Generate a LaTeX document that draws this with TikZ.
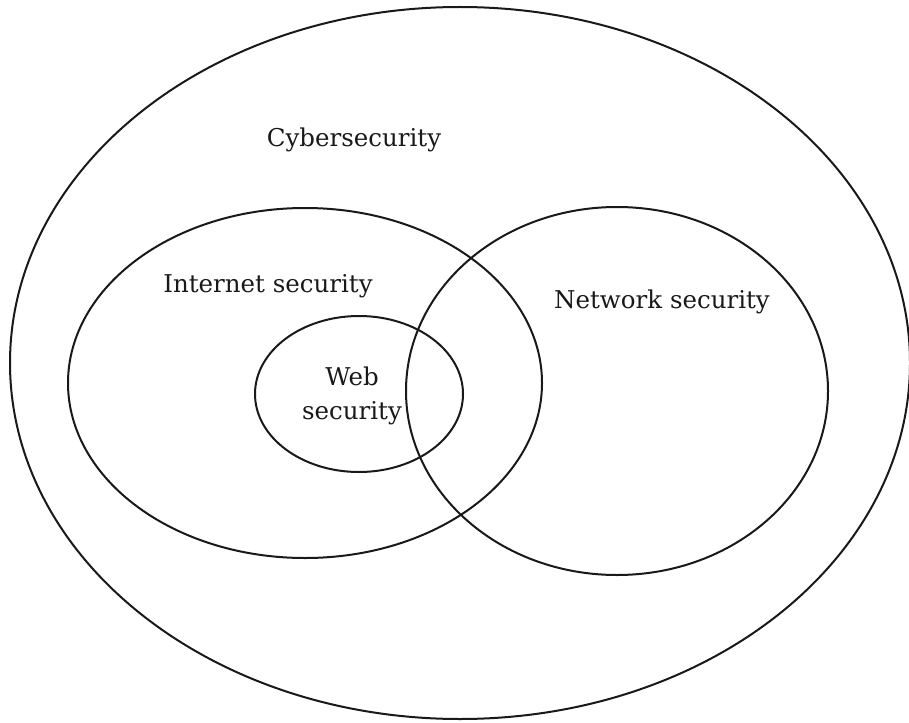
\documentclass[tikz,border=0pt]{standalone}
\usepackage{fontspec}
\setmainfont{DejaVu Serif}
\begin{document}
\begin{tikzpicture}[x=1pt,y=-1pt,
  ring/.style={draw=black!90, line width=2pt},
  lbl/.style={font=\fontsize{24.5}{34}\selectfont, text=black!90, inner sep=0pt, align=center}]
\useasboundingbox (0,0) rectangle (909,722);
\draw[ring] (460,363) ellipse [x radius=450, y radius=356];
\draw[ring] (305,383) ellipse [x radius=237, y radius=175];
\draw[ring] (617,391) ellipse [x radius=211, y radius=184];
\draw[ring] (359,394) ellipse [x radius=104, y radius=78];
\node[lbl] (cyber) at (354,140) {Cybersecurity};
\node[lbl] (inet) at (268,286) {Internet security};
\node[lbl] (net) at (662,302) {Network security};
\node[lbl] (web) at (352,396) {Web\\security};
\end{tikzpicture}
\end{document}
